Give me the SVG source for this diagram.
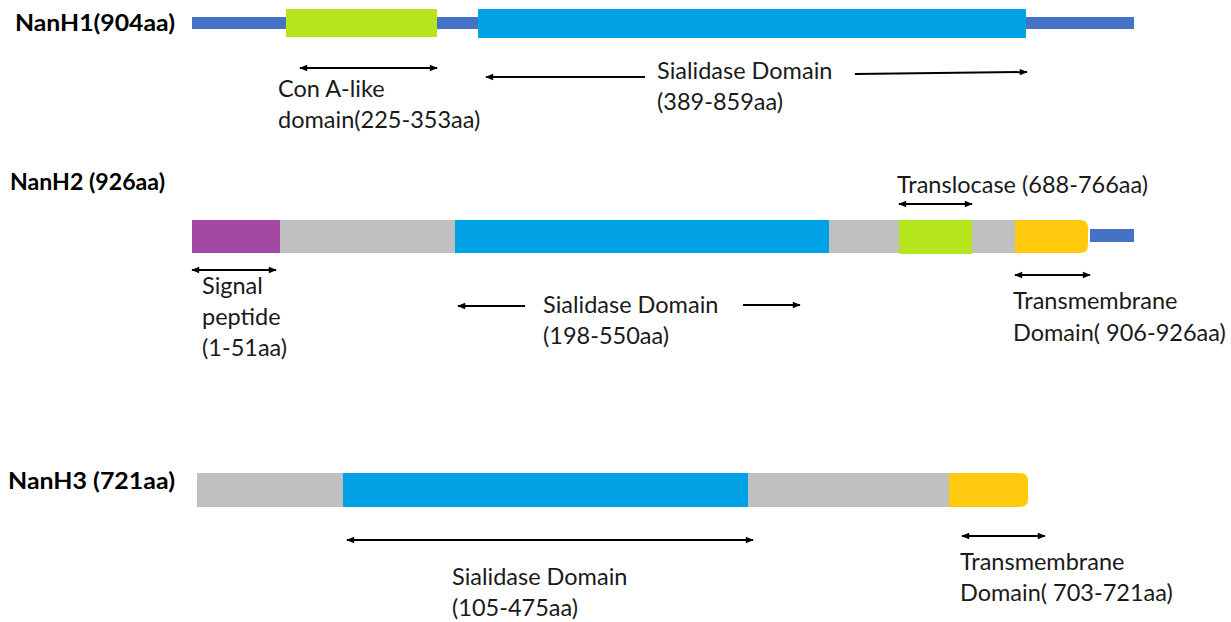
<svg xmlns="http://www.w3.org/2000/svg" width="1231" height="622" viewBox="0 0 1231 622">
  <defs>
    <marker id="head" viewBox="0 0 10 10" refX="9" refY="5" markerWidth="9" markerHeight="8" orient="auto-start-reverse" markerUnits="userSpaceOnUse">
      <path d="M0,1 L10,5 L0,9 Z" fill="#000"/>
    </marker>
    <style>
      .title { font-family: Lato, "Liberation Sans", sans-serif; font-weight: bold; font-size: 22px; fill: #000; }
      .lbl { font-family: Lato, "Liberation Sans", sans-serif; font-size: 23.5px; fill: #1a1a1a; }
      .arr { stroke: #000; stroke-width: 2; fill: none; marker-end: url(#head); }
      .dbl { stroke: #000; stroke-width: 2; fill: none; marker-start: url(#head); marker-end: url(#head); }
      .linker { fill: #4472C4; }
      .sial { fill: #00A2E6; }
      .conA { fill: #B5E61D; }
      .grey { fill: #C0C0C0; }
      .sig { fill: #A349A4; }
      .tm { fill: #FFC90E; }
    </style>
  </defs>

  <!-- NanH1 -->
  <g id="nanh1">
    <text class="title" x="15" y="31" textLength="160" lengthAdjust="spacingAndGlyphs">NanH1(904aa)</text>
    <rect class="linker" x="192" y="17" width="942" height="12"/>
    <rect class="conA" x="286" y="9" width="151" height="28"/>
    <rect class="sial" x="478" y="9" width="548" height="29"/>
    <text class="lbl" x="278" y="97">Con A-like</text>
    <text class="lbl" x="278" y="128">domain(225-353aa)</text>
    <text class="lbl" x="657" y="79">Sialidase Domain</text>
    <text class="lbl" x="657" y="110">(389-859aa)</text>
  </g>

  <!-- NanH2 -->
  <g id="nanh2">
    <text class="title" x="10" y="190" textLength="155" lengthAdjust="spacingAndGlyphs">NanH2 (926aa)</text>
    <rect class="sig" x="192" y="220" width="88" height="33"/>
    <rect class="grey" x="280" y="220" width="175" height="33"/>
    <rect class="sial" x="455" y="220" width="374" height="33"/>
    <rect class="grey" x="829" y="220" width="70" height="33"/>
    <rect class="conA" x="899" y="220" width="73" height="34"/>
    <rect class="grey" x="972" y="220" width="43" height="33"/>
    <path class="tm" d="M1015,220 H1080 Q1088,220 1088,228 V245 Q1088,253 1080,253 H1015 Z"/>
    <rect class="linker" x="1090" y="229" width="44" height="13"/>
    <text class="lbl" x="897" y="193">Translocase (688-766aa)</text>
    <text class="lbl" x="202" y="294">Signal</text>
    <text class="lbl" x="202" y="325">peptide</text>
    <text class="lbl" x="202" y="356">(1-51aa)</text>
    <text class="lbl" x="543" y="313">Sialidase Domain</text>
    <text class="lbl" x="543" y="344">(198-550aa)</text>
    <text class="lbl" x="1013" y="309">Transmembrane</text>
    <text class="lbl" x="1013" y="341">Domain( 906-926aa)</text>
  </g>

  <!-- NanH3 -->
  <g id="nanh3">
    <text class="title" x="8" y="489" textLength="167" lengthAdjust="spacingAndGlyphs">NanH3 (721aa)</text>
    <rect class="grey" x="197" y="473" width="146" height="34"/>
    <rect class="sial" x="343" y="473" width="405" height="34"/>
    <rect class="grey" x="748" y="473" width="201" height="34"/>
    <path class="tm" d="M949,473 H1020 Q1028,473 1028,481 V499 Q1028,507 1020,507 H949 Z"/>
    <text class="lbl" x="452" y="585">Sialidase Domain</text>
    <text class="lbl" x="452" y="616">(105-475aa)</text>
    <text class="lbl" x="960" y="570">Transmembrane</text>
    <text class="lbl" x="960" y="601">Domain( 703-721aa)</text>
  </g>

  <!-- span arrows -->
  <g id="connectors">
    <line class="dbl" x1="300" y1="68" x2="437" y2="68"/>
    <line class="arr" x1="645" y1="77" x2="486" y2="77"/>
    <line class="arr" x1="855" y1="74" x2="1027" y2="72"/>
    <line class="dbl" x1="899" y1="204" x2="972" y2="204"/>
    <line class="dbl" x1="192" y1="270" x2="276" y2="270"/>
    <line class="arr" x1="525" y1="306" x2="458" y2="306"/>
    <line class="arr" x1="743" y1="305" x2="800" y2="305"/>
    <line class="dbl" x1="1015" y1="275" x2="1090" y2="275"/>
    <line class="dbl" x1="347" y1="540" x2="753" y2="540"/>
    <line class="dbl" x1="962" y1="536" x2="1045" y2="536"/>
  </g>
</svg>
